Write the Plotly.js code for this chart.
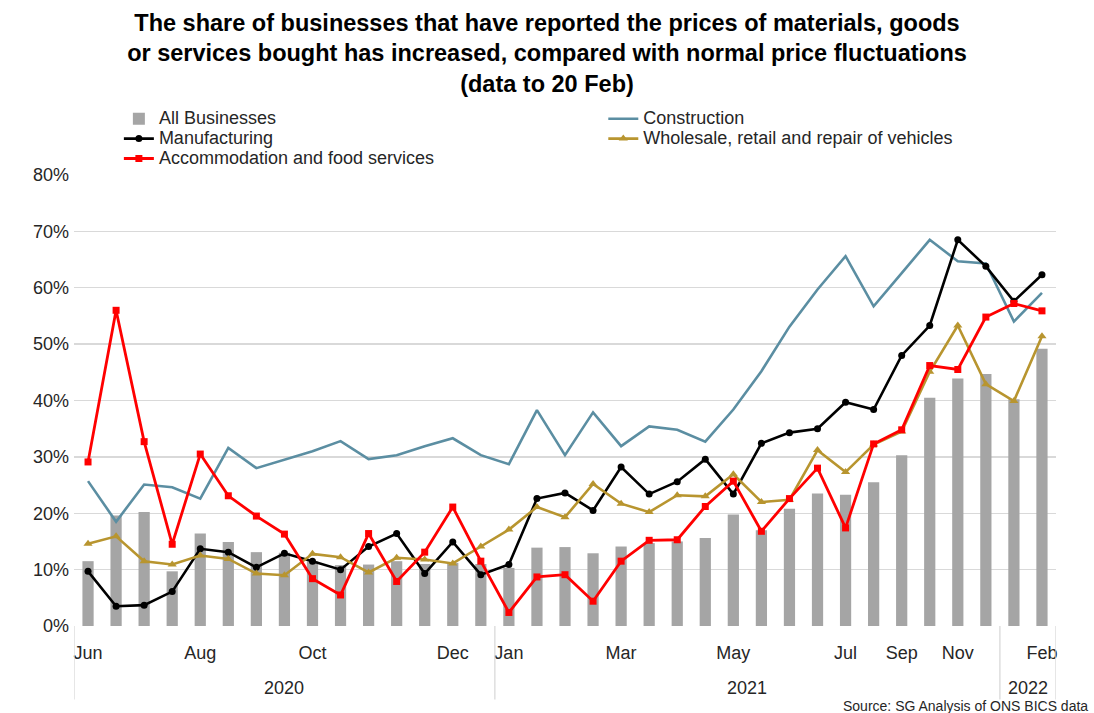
<!DOCTYPE html>
<html>
<head>
<meta charset="utf-8">
<script src="https://cdn.plot.ly/plotly-3.0.1.min.js"></script>
<style>html,body{margin:0;padding:0;background:#fff;}#chart{width:1094px;height:713px;}</style>
</head>
<body>
<div id="chart"></div>
<script>
// Fortnightly observations, Jun 2020 – Feb 2022 (35 points)
const monthLabels = ["Jun","","","","Aug","","","","Oct","","","","","Dec","","Jan","","","","Mar","","","","May","","","","Jul","","Sep","","Nov","","","Feb"];
const yearLabels = ["2020","2021","2022"];
const yearStart = [0, 15, 33];   // index of first point of each year
const yearEnd   = [14, 32, 34];  // index of last point of each year

const seriesNames = ["All Businesses","Construction","Manufacturing","Wholesale, retail and repair of vehicles","Accommodation and food services"];

const allBusinesses = [11.5,19.6,20.2,9.7,16.4,14.9,13.1,13.0,11.5,10.8,10.9,11.5,11.0,11.2,11.0,10.3,13.9,14.0,12.9,14.1,14.7,15.0,15.6,19.8,17.0,20.8,23.5,23.3,25.5,30.3,40.5,43.9,44.7,40.2,49.2];
const construction  = [25.7,18.5,25.1,24.6,22.6,31.6,28.0,29.5,31.0,32.8,29.6,30.3,31.9,33.3,30.3,28.7,38.3,30.3,37.9,31.9,35.4,34.8,32.7,38.4,45.2,53.1,59.7,65.6,56.7,62.6,68.5,64.7,64.3,54.0,59.1];
const manufacturing = [9.7,3.5,3.7,6.1,13.7,13.1,10.4,12.9,11.5,10.0,14.1,16.4,9.3,14.9,9.1,10.9,22.6,23.6,20.5,28.2,23.4,25.6,29.6,23.4,32.4,34.3,35.0,39.7,38.4,48.0,53.3,68.5,63.8,57.6,62.3];
const wholesale     = [14.6,15.9,11.5,10.9,12.5,11.9,9.3,9.0,12.8,12.2,9.5,12.1,11.8,11.1,14.1,17.1,21.1,19.3,25.2,21.7,20.2,23.2,23.0,26.9,22.0,22.4,31.2,27.3,32.2,34.5,45.1,53.3,42.9,39.9,51.4];
const accommodation = [29.1,56.0,32.7,14.5,30.5,23.1,19.5,16.3,8.4,5.5,16.4,7.9,13.1,21.1,11.5,2.4,8.7,9.1,4.4,11.5,15.2,15.3,21.2,25.7,16.8,22.6,28.0,17.4,32.3,34.8,46.2,45.5,54.8,57.2,55.9];

const idx = monthLabels.map((_, i) => i);
const tickvals = idx.filter(i => monthLabels[i] !== "");
const ticktext = tickvals.map(i => monthLabels[i]);

const FONT = "Liberation Sans, Arial, sans-serif";
const lg = s => "<span style='font-size:18px'>" + s + "</span>";

const traces = [
  {type:"bar", name:lg(seriesNames[0]), x: idx, y: allBusinesses, width:0.4,
   marker:{color:"#a5a5a5"}, legend:"legend"},
  {type:"scatter", mode:"lines", name:lg(seriesNames[1]), x: idx, y: construction,
   line:{color:"#5b8ea2", width:2.6}, legend:"legend2"},
  {type:"scatter", mode:"lines+markers", name:lg(seriesNames[2]), x: idx, y: manufacturing,
   line:{color:"#000000", width:2.6}, marker:{symbol:"circle", size:7, color:"#000000"}, legend:"legend"},
  {type:"scatter", mode:"lines+markers", name:lg(seriesNames[3]), x: idx, y: wholesale,
   line:{color:"#b8952f", width:2.6}, marker:{symbol:"triangle-up", size:8, color:"#b8952f"}, legend:"legend2"},
  {type:"scatter", mode:"lines+markers", name:lg(seriesNames[4]), x: idx, y: accommodation,
   line:{color:"#ff0000", width:2.8}, marker:{symbol:"square", size:7, color:"#ff0000"}, legend:"legend"}
];

const shapes = [];
const bounds = [-0.5].concat(yearEnd.map(e => e + 0.5));
bounds.forEach(b => shapes.push({type:"line", xref:"x", yref:"paper", x0:b, x1:b, y0:0, y1:-0.163,
  line:{color:"#d9d9d9", width:1.3}}));

const annotations = yearLabels.map((yl, k) => ({
  text: yl, xref:"x", yref:"paper", x:(yearStart[k] + yearEnd[k]) / 2, y:-0.137,
  showarrow:false, xanchor:"center", yanchor:"middle",
  font:{family:FONT, size:18, color:"#262626"}
}));
annotations.push({text:"Source: SG Analysis of ONS BICS data", xref:"paper", yref:"paper",
  x:1.035, y:-0.1765, xanchor:"right", yanchor:"middle", showarrow:false,
  font:{family:FONT, size:14, color:"#262626"}});

const legendBase = {orientation:"v", yanchor:"top", y:1.158, xanchor:"left", traceorder:"normal",
  font:{family:FONT, size:13, color:"#262626"}, bgcolor:"rgba(0,0,0,0)", borderwidth:0};

const layout = {
  width:1094, height:713,
  margin:{l:74, r:38, t:175, b:87},
  paper_bgcolor:"#ffffff", plot_bgcolor:"#ffffff",
  font:{family:FONT, color:"#262626"},
  title:{text:"<b>The share of businesses that have reported the prices of materials, goods<br>or services bought has increased, compared with normal price fluctuations<br>(data to 20 Feb)</b>",
    x:0.5, xref:"container", xanchor:"center", y:0.957, yref:"container", yanchor:"top",
    font:{family:FONT, size:23.5, color:"#000000"}},
  showlegend:true,
  legend:Object.assign({}, legendBase, {x:0.0457}),
  legend2:Object.assign({}, legendBase, {x:0.539}),
  xaxis:{range:[-0.5,34.5], tickvals:tickvals, ticktext:ticktext, showgrid:false, zeroline:false,
    showline:false, ticks:"", tickfont:{family:FONT, size:18, color:"#262626"},
    ticklabelstandoff:14, fixedrange:true},
  yaxis:{range:[0,80], dtick:10, ticksuffix:"%", showgrid:true, gridcolor:"#d9d9d9", gridwidth:1.3,
    zeroline:false, showline:false, ticks:"", tickfont:{family:FONT, size:18, color:"#262626"},
    ticklabelstandoff:4, fixedrange:true},
  shapes:shapes,
  annotations:annotations
};

Plotly.newPlot("chart", traces, layout, {displayModeBar:false, staticPlot:true});
</script>
</body>
</html>
